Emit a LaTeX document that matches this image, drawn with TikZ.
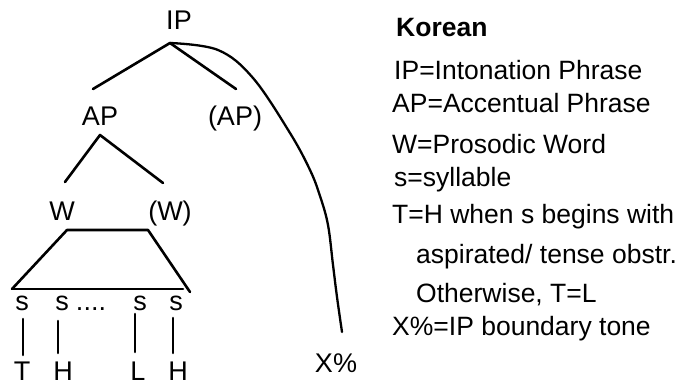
\documentclass[tikz,border=0pt]{standalone}
\usepackage{fontspec}
\setmainfont{Liberation Sans}
\begin{document}
\begin{tikzpicture}[x=1pt,y=-1pt,
  lbl/.style={inner sep=0pt, anchor=base, font=\fontsize{27}{30}\selectfont},
  leg/.style={inner sep=0pt, anchor=base west, font=\fontsize{26.5}{30}\selectfont},
  ln/.style={line width=2.6pt, line cap=round, line join=round}]
\useasboundingbox (0,0) rectangle (676,385);
% tree labels
\node[lbl] (IP)  at (179,30) {IP};
\node[lbl] (AP)  at (100,125) {AP};
\node[lbl] (AP2) at (235,125) {(AP)};
\node[lbl] (W)   at (62,220) {W};
\node[lbl] (W2)  at (170,220) {(W)};
\node[lbl] (s1)  at (22,310) {s};
\node[lbl] (s2)  at (62,310) {s};
\node[lbl] (dots) at (91,310) {....};
\node[lbl] (s3)  at (140,310) {s};
\node[lbl] (s4)  at (176,310) {s};
\node[lbl] (T)   at (22,380) {T};
\node[lbl] (H1)  at (63,380) {H};
\node[lbl] (L)   at (138,380) {L};
\node[lbl] (H2)  at (178,380) {H};
\node[lbl] (X)   at (336,372) {X\%};
% connector end points
\coordinate (ipapex) at (170,43);
\coordinate (apL) at (93,89);
\coordinate (apR) at (236,89);
\coordinate (apapex) at (100,135);
\coordinate (wL) at (65,182);
\coordinate (wR) at (163,183);
\coordinate (t1) at (12,289);
\coordinate (t2) at (67,230);
\coordinate (t3) at (148,230);
\coordinate (t4) at (190,292);
\coordinate (t5) at (183,289);
\coordinate (v1a) at (23,319);  \coordinate (v1b) at (23,355);
\coordinate (v2a) at (58,321);  \coordinate (v2b) at (58,353);
\coordinate (v3a) at (135,314); \coordinate (v3b) at (135,352);
\coordinate (v4a) at (173,318); \coordinate (v4b) at (173,353);
\coordinate (xend) at (342,332);
% tree lines
\draw[ln] (apL) -- (ipapex) -- (apR);
\draw[ln] (wL) -- (apapex) -- (wR);
\draw[ln] (t1) -- (t2) -- (t3) -- (t4);
\draw[ln] (t1) -- (t5);
\draw[ln] (v1a) -- (v1b);
\draw[ln] (v2a) -- (v2b);
\draw[ln] (v3a) -- (v3b);
\draw[ln] (v4a) -- (v4b);
\draw[ln, line width=2.3pt] plot[smooth, tension=0.6] coordinates
  {(ipapex) (218,50) (253,78) (290,133) (310,170) (320,196) (328,225) (333,265) (337,297) (xend)};
% legend
\node[leg, font=\bfseries\fontsize{26.5}{30}\selectfont] (kor) at (396,37) {Korean};
\node[leg] (l1) at (394,80) {IP=Intonation Phrase};
\node[leg] (l2) at (392,113) {AP=Accentual Phrase};
\node[leg] (l3) at (392,153) {W=Prosodic Word};
\node[leg] (l4) at (394,186) {s=syllable};
\node[leg] (l5) at (392,223) {T=H when s begins with};
\node[leg] (l6) at (416,263) {aspirated/ tense obstr.};
\node[leg] (l7) at (416,302) {Otherwise, T=L};
\node[leg] (l8) at (392,335) {X\%=IP boundary tone};
\end{tikzpicture}
\end{document}
